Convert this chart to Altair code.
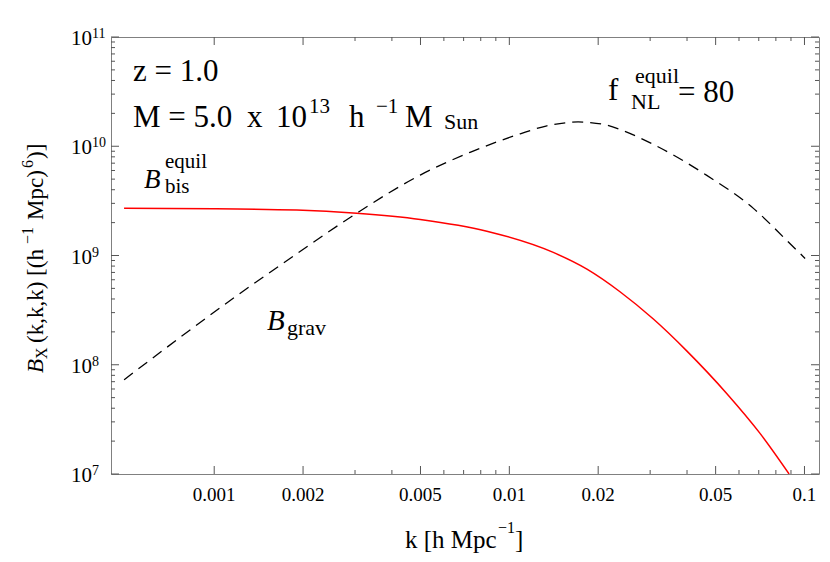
import altair as alt
import pandas as pd

# ---------------- data ----------------
k_bis = [4.95e-4, 1.0e-3, 1.905e-3, 3.04e-3, 4.99e-3, 8.39e-3, 0.01409, 0.01832,
         0.02371, 0.03076, 0.0399, 0.0546, 0.0708, 0.0887]
B_bis = [2.70e9, 2.68e9, 2.61e9, 2.44e9, 2.14e9, 1.67e9, 1.067e9, 7.50e8,
         4.66e8, 2.62e8, 1.34e8, 5.43e7, 2.34e7, 1.0e7]

k_grav = [4.95e-4, 1.194e-3, 1.905e-3, 3.04e-3, 4.99e-3, 7.36e-3, 0.01089, 0.01340,
          0.01607, 0.01710, 0.01854, 0.02138, 0.02438, 0.03076, 0.04667, 0.06714,
          0.0871, 0.1005]
B_grav = [7.29e7, 4.29e8, 1.038e9, 2.44e9, 5.45e9, 8.80e9, 1.300e10, 1.538e10,
          1.656e10, 1.671e10, 1.652e10, 1.560e10, 1.383e10, 1.040e10, 5.41e9, 2.70e9,
          1.374e9, 9.40e8]

y_major = [1e7, 1e8, 1e9, 1e10, 1e11]
y_exps = ["7", "8", "9", "10", "11"]
y_minor = [2e7, 3e7, 4e7, 5e7, 6e7, 7e7, 8e7, 9e7,
           2e8, 3e8, 4e8, 5e8, 6e8, 7e8, 8e8, 9e8,
           2e9, 3e9, 4e9, 5e9, 6e9, 7e9, 8e9, 9e9,
           2e10, 3e10, 4e10, 5e10, 6e10, 7e10, 8e10, 9e10]
x_major = [0.001, 0.002, 0.005, 0.01, 0.02, 0.05, 0.1]
x_labels = ["0.001", "0.002", "0.005", "0.01", "0.02", "0.05", "0.1"]
x_minor = [0.003, 0.004, 0.006, 0.007, 0.008, 0.009,
           0.03, 0.04, 0.06, 0.07, 0.08, 0.09]

# ---------------- layout ----------------
W, H = 708, 437
FONT = "Liberation Serif"
TICK = "#555555"
xs = alt.Scale(type="log", domain=[4.47e-4, 0.112])
ys = alt.Scale(type="log", domain=[1e7, 1e11])

def X(field="k"):
    return alt.X(f"{field}:Q", scale=xs, axis=None)

def Y(field="B"):
    return alt.Y(f"{field}:Q", scale=ys, axis=None)

bis = alt.Chart(pd.DataFrame({"k": k_bis, "B": B_bis})).mark_line(
    color="#ff0000", strokeWidth=1.5, clip=True, interpolate="monotone"
).encode(x=X(), y=Y())

grav = alt.Chart(pd.DataFrame({"k": k_grav, "B": B_grav})).mark_line(
    color="black", strokeWidth=1.3, strokeDash=[11, 7], clip=True, interpolate="monotone"
).encode(x=X(), y=Y())

dfx_major = pd.DataFrame({"k": x_major, "lab": x_labels})
dfx_minor = pd.DataFrame({"k": x_minor})
dfy_major = pd.DataFrame({"B": y_major, "e": y_exps, "base": ["10"] * len(y_major)})
dfy_minor = pd.DataFrame({"B": y_minor})

def xticks(df, n):
    bottom = alt.Chart(df).mark_rule(color=TICK, strokeWidth=1).encode(
        x=X(), y=alt.value(H), y2=alt.value(H - n))
    top = alt.Chart(df).mark_rule(color=TICK, strokeWidth=1).encode(
        x=X(), y=alt.value(0), y2=alt.value(n))
    return [bottom, top]

def yticks(df, n):
    left = alt.Chart(df).mark_rule(color=TICK, strokeWidth=1).encode(
        y=Y(), x=alt.value(0), x2=alt.value(n))
    right = alt.Chart(df).mark_rule(color=TICK, strokeWidth=1).encode(
        y=Y(), x=alt.value(W), x2=alt.value(W - n))
    return [left, right]

tick_layers = xticks(dfx_major, 8) + xticks(dfx_minor, 4) + yticks(dfy_major, 8) + yticks(dfy_minor, 4)

xlab = alt.Chart(dfx_major).mark_text(font=FONT, fontSize=19, baseline="alphabetic",
                                      align="center", color="black").encode(
    x=X(), y=alt.value(H + 27), text="lab:N")
ylab_base = alt.Chart(dfy_major).mark_text(font=FONT, fontSize=21, baseline="alphabetic",
                                           align="right", color="black", dy=8, dx=-19).encode(
    y=Y(), x=alt.value(0), text="base:N")
ylab_exp = alt.Chart(dfy_major).mark_text(font=FONT, fontSize=14, baseline="alphabetic",
                                          align="left", color="black", dy=1, dx=-19).encode(
    y=Y(), x=alt.value(0), text="e:N")

def txt(s, x, y, size, italic=False, angle=None):
    props = dict(font=FONT, fontSize=size, align="left", baseline="alphabetic", color="black")
    if italic:
        props["fontStyle"] = "italic"
    if angle is not None:
        props["angle"] = angle
    return alt.Chart(pd.DataFrame({"t": [s]})).mark_text(**props).encode(
        x=alt.value(x), y=alt.value(y), text="t:N")

annotations = [
    txt("z = 1.0", 22, 44, 31),
    txt("M = 5.0", 22, 90, 31),
    txt("x", 136, 90, 31),
    txt("10", 165, 90, 31),
    txt("13", 198, 76, 21),
    txt("h", 238, 90, 31),
    txt("\u22121", 265, 76, 21),
    txt("M", 294, 90, 31),
    txt("Sun", 333, 92, 22),
    txt("f", 497, 63, 31),
    txt("equil", 524, 46, 22),
    txt("NL", 520, 72, 22),
    txt("= 80", 567, 65, 31),
    txt("B", 33, 151, 27, italic=True),
    txt("equil", 54, 131, 21),
    txt("bis", 54, 156, 21),
    txt("B", 156, 293, 29, italic=True),
    txt("grav", 176, 298, 22),
    # x title
    txt("k [h Mpc", 294, 511, 25),
    txt("\u22121", 387, 496, 16),
    txt("]", 404, 511, 25),
    # y title (rotated)
    txt("B", -68, 336, 23, italic=True, angle=270),
    txt("X", -64, 322, 16, angle=270),
    txt("(k,k,k) [(h", -68, 306, 23, angle=270),
    txt("\u22121", -78, 207, 16, angle=270),
    txt("Mpc)", -68, 183, 23, angle=270),
    txt("6", -78, 131, 16, angle=270),
    txt(")]", -68, 122, 23, angle=270),
]

chart = alt.layer(*tick_layers, grav, bis, xlab, ylab_base, ylab_exp, *annotations).properties(
    width=W, height=H,
    autosize=alt.AutoSizeParams(type="none"),
    padding={"left": 103, "top": 29, "right": 3, "bottom": 80},
).configure_view(stroke="#808080", strokeWidth=1)

chart.save("out.html", embed_options={"renderer": "svg", "actions": False})
